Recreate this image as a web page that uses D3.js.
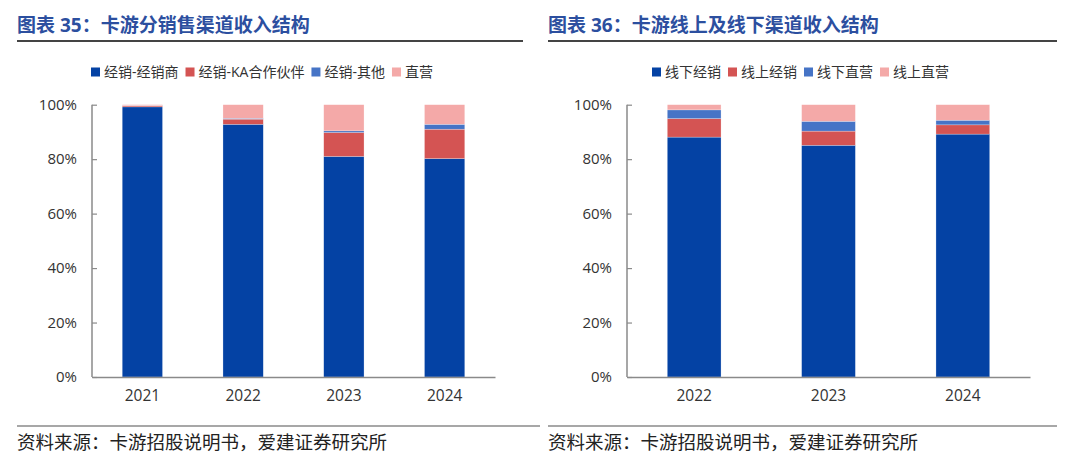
<!DOCTYPE html>
<html>
<head>
<meta charset="utf-8">
<script src="https://cdn.jsdelivr.net/npm/d3@7"></script>
<style>
  body { margin: 0; background: #fff; }
  svg text { font-family: "Open Sans", "Noto Sans CJK SC", sans-serif; }
</style>
</head>
<body>
<div class="chart"></div>
<script>
// chart 35 data
var years35 = ["2021", "2022", "2023", "2024"];
var keys35 = ["经销-经销商", "经销-KA合作伙伴", "经销-其他", "直营"];
var dealer35 = [99.2, 92.8, 81.0, 80.2];
var ka35 = [0.4, 1.9, 8.8, 10.8];
var other35 = [0.1, 0.3, 0.6, 1.8];
var direct35 = [0.3, 5.0, 9.6, 7.2];

// chart 36 data
var years36 = ["2022", "2023", "2024"];
var keys36 = ["线下经销", "线上经销", "线下直营", "线上直营"];
var offDealer36 = [88.1, 85.1, 89.2];
var onDealer36 = [6.8, 5.2, 3.4];
var offDirect36 = [3.2, 3.6, 1.7];
var onDirect36 = [1.9, 6.1, 5.7];

var yTicks = [0, 20, 40, 60, 80, 100];
var colors = ["#0442a4", "#d45453", "#4674c6", "#f4a9a8"];

var svgWidth = 1080;
var svgHeight = 470;

var svg = d3.select(".chart")
  .append("svg")
  .attr("width", svgWidth)
  .attr("height", svgHeight);

function drawPanel(opt) {
  var g = svg.append("g");

  // title + rule
  g.append("text")
    .attr("x", opt.left)
    .attr("y", 32)
    .attr("font-size", 19)
    .attr("font-weight", "bold")
    .attr("fill", "#2c4f9f")
    .text(opt.title);
  g.append("line")
    .attr("x1", opt.left).attr("x2", opt.right)
    .attr("y1", 41).attr("y2", 41)
    .attr("stroke", "#444").attr("stroke-width", 2);

  // stacked rows
  var rows = opt.years.map(function(y, i) {
    var r = { year: y };
    opt.keys.forEach(function(k, j) { r[k] = opt.series[j][i]; });
    return r;
  });
  var stacked = d3.stack().keys(opt.keys)(rows);

  var x = d3.scaleBand()
    .domain(opt.years)
    .range([opt.x0, opt.x1])
    .paddingInner(0.6)
    .paddingOuter(0.3);
  var y = d3.scaleLinear().domain([0, 100]).range([377, 104.7]);

  g.selectAll("g.layer")
    .data(stacked)
    .enter()
    .append("g")
    .attr("fill", function(d, i) { return colors[i]; })
    .selectAll("rect")
    .data(function(d) { return d; })
    .enter()
    .append("rect")
    .attr("x", function(d) { return x(d.data.year); })
    .attr("width", x.bandwidth())
    .attr("y", function(d) { return y(d[1]); })
    .attr("height", function(d) { return y(d[0]) - y(d[1]); })
    .attr("stroke", "#fff")
    .attr("stroke-opacity", 0.5)
    .attr("stroke-width", 0.5);

  // y axis, ticks inside
  var leftAxis = d3.axisLeft(y)
    .tickValues(yTicks)
    .tickSize(-5)
    .tickPadding(15)
    .tickFormat(function(d) { return d + "%"; });
  var ya = g.append("g")
    .attr("transform", "translate(" + opt.x0 + ",0)")
    .call(leftAxis);
  ya.select(".domain").attr("stroke", "#8a8a8a").attr("stroke-width", 1.5)
    .attr("d", "M0,104.7V377");
  ya.selectAll(".tick line").attr("stroke", "#8a8a8a").attr("stroke-width", 1.2);
  ya.selectAll(".tick text").attr("font-size", 15).attr("fill", "#333");

  // x axis
  var bottomAxis = d3.axisBottom(x).tickSize(0).tickPadding(13);
  var xa = g.append("g")
    .attr("transform", "translate(0,377)")
    .call(bottomAxis);
  xa.select(".domain").attr("stroke", "#8a8a8a").attr("stroke-width", 1.5);
  xa.selectAll(".tick text").attr("font-size", 15.5).attr("fill", "#333");

  // legend
  var lg = g.append("g").attr("transform", "translate(" + opt.legendX + ",72)");
  var cx = 0;
  opt.keys.forEach(function(k, i) {
    lg.append("rect")
      .attr("x", cx).attr("y", -4.5)
      .attr("width", 9).attr("height", 9)
      .attr("fill", colors[i]);
    var t = lg.append("text")
      .attr("x", cx + 13).attr("y", 5)
      .attr("font-size", 14)
      .attr("fill", "#333")
      .text(k);
    cx += 13 + t.node().getComputedTextLength() + 7;
  });

  // footer
  g.append("line")
    .attr("x1", opt.left).attr("x2", opt.footRight)
    .attr("y1", 426).attr("y2", 426)
    .attr("stroke", "#8a8a8a").attr("stroke-width", 1.5);
  g.append("text")
    .attr("x", opt.left)
    .attr("y", 449)
    .attr("font-size", 18.5)
    .attr("fill", "#222")
    .text("资料来源：卡游招股说明书，爱建证券研究所");
}

drawPanel({
  title: "图表 35：卡游分销售渠道收入结构",
  left: 17, right: 523, footRight: 540,
  x0: 92, x1: 495,
  legendX: 91,
  years: years35,
  keys: keys35,
  series: [dealer35, ka35, other35, direct35]
});

drawPanel({
  title: "图表 36：卡游线上及线下渠道收入结构",
  left: 548, right: 1057, footRight: 1057,
  x0: 627, x1: 1030,
  legendX: 652,
  years: years36,
  keys: keys36,
  series: [offDealer36, onDealer36, offDirect36, onDirect36]
});
</script>
</body>
</html>
